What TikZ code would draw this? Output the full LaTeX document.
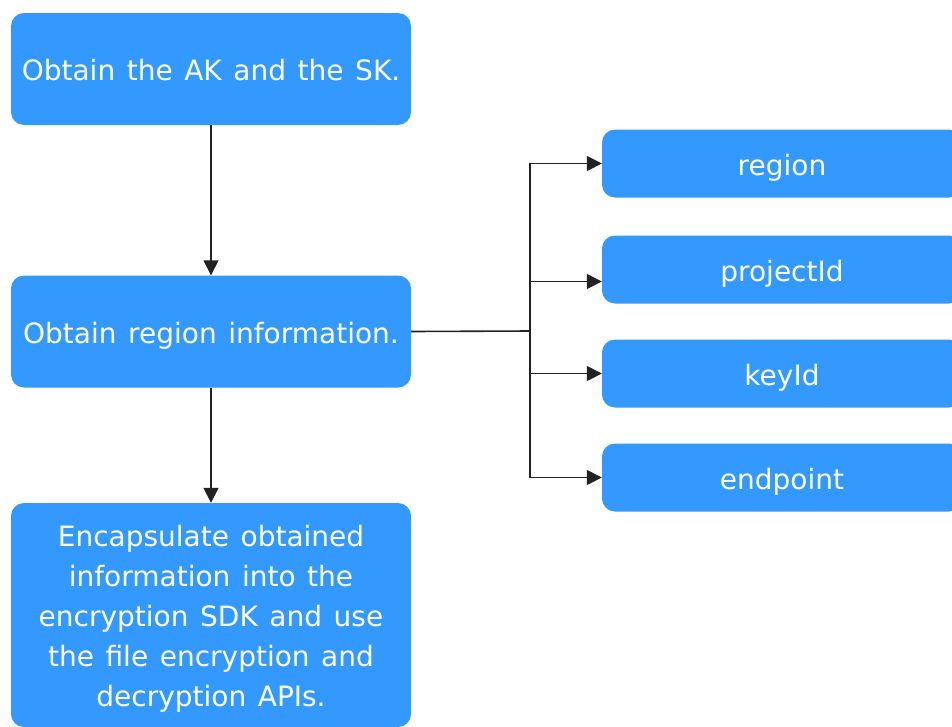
\documentclass[tikz,border=0pt]{standalone}
\usepackage{fontspec}
\setmainfont[WordSpace=1.3]{DejaVu Sans}
\usepackage{tikz}
\usetikzlibrary{arrows.meta,positioning}
\definecolor{kmsBlue}{HTML}{3399FF}
\definecolor{kmsLine}{HTML}{222222}
\tikzset{
  basebox/.style={
    rectangle,
    rounded corners=13pt,
    fill=kmsBlue,
    text=white,
    align=center,
    font=\fontsize{28}{40}\selectfont,
    minimum width=400pt,
    minimum height=112pt,
    inner sep=0pt
  },
  stepbox/.style={basebox, text height=23pt, text depth=0pt},
  keybox/.style={stepbox, minimum width=360pt, minimum height=68pt},
  arrow/.style={-{Triangle[length=15pt,width=15pt]}, line width=1.6pt, draw=kmsLine},
  link/.style={line width=1.6pt, draw=kmsLine}
}
\begin{document}
\begin{tikzpicture}[x=1pt, y=-1pt]
  \useasboundingbox[fill=white] (0,0) rectangle (952,726);
  \node[stepbox] (aksk) at (211,69) {Obtain the AK and the SK.};
  \node[stepbox] (info) at (211,331.5) {Obtain region information.};
  \node[basebox, minimum height=224pt, text height=183pt, text depth=-19pt] (sdk) at (211,615) {Encapsulate obtained\\information into the\\encryption SDK and use\\the file encryption and\\decryption APIs.};
  % key boxes run past the right edge
  \node[keybox] (region) at (782,163.5) {region};
  \node[keybox] (project) at (782,269.5) {projectId};
  \node[keybox] (key) at (782,373.5) {keyId};
  \node[keybox] (endpoint) at (782,477.5) {endpoint};
  \coordinate (split) at (530,331);
  \draw[arrow] (aksk) -- (info);
  \draw[arrow] (info) -- (sdk);
  \draw[link] (info.east) -- (split);
  \draw[arrow] (split) |- (region.west);
  \draw[arrow] (split) |- ([yshift=-12pt]project.west);
  \draw[arrow] (split) |- (key.west);
  \draw[arrow] (split) |- (endpoint.west);
\end{tikzpicture}
\end{document}
